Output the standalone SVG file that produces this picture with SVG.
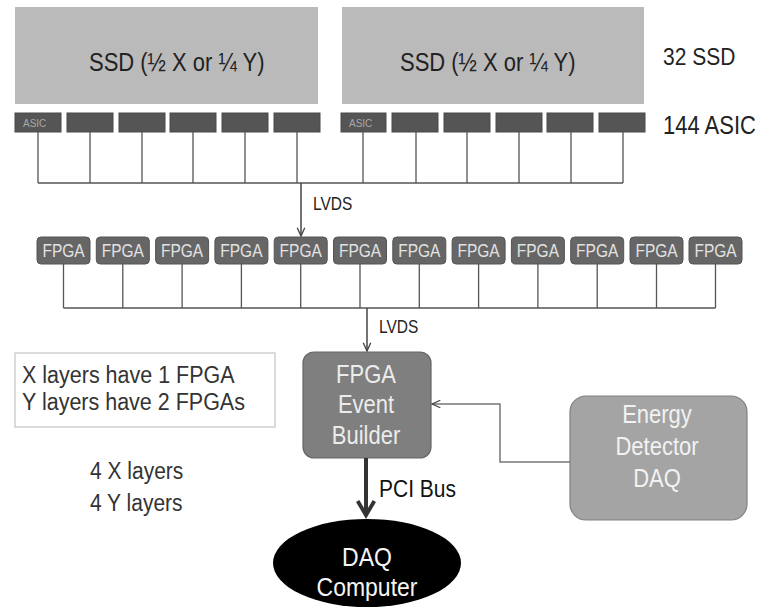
<svg xmlns="http://www.w3.org/2000/svg" width="763" height="616" viewBox="0 0 763 616">
<style>
  text { font-family: "Liberation Sans", Arial, sans-serif; }
  .ssd { fill: #bababa; }
  .asic { fill: #555; stroke: #4a4a4a; stroke-width: 1; }
  .fpga { fill: #666; stroke: #555; stroke-width: 1; }
  .fpgat { fill: #e2e2e2; font-size: 15.5px; text-anchor: middle; }
  .wire { fill: none; stroke: #555; stroke-width: 1.3; }
  .lbl { fill: #222; }
</style>
<defs>
  <marker id="chev" viewBox="0 0 12 12" refX="11" refY="6" markerWidth="10" markerHeight="10" markerUnits="userSpaceOnUse" orient="auto">
    <path d="M1,1.5 L11,6 L1,10.5" fill="none" stroke="#444" stroke-width="1.6"/>
  </marker>
  <marker id="chevthick" viewBox="0 0 12 12" refX="10.5" refY="6" markerWidth="20" markerHeight="20" markerUnits="userSpaceOnUse" orient="auto">
    <path d="M1.5,1 L10,6 L1.5,11" fill="none" stroke="#333" stroke-width="2.3"/>
  </marker>
</defs>
<rect width="763" height="616" fill="#ffffff"/>

<g id="ssd1"><rect class="ssd" x="15" y="7" width="303" height="97"/><text class="lbl" transform="translate(89,71) scale(1,1.15)" font-size="22">SSD (½ X or ¼ Y)</text></g>
<g id="ssd2"><rect class="ssd" x="342" y="7" width="302" height="97"/><text class="lbl" transform="translate(400,71) scale(1,1.15)" font-size="22">SSD (½ X or ¼ Y)</text></g>
<g id="label-32ssd"><text class="lbl" transform="translate(663,65) scale(1,1.15)" font-size="21">32 SSD</text></g>
<g id="label-144asic"><text class="lbl" transform="translate(663,134) scale(1,1.15)" font-size="22">144 ASIC</text></g>

<g id="asics">
  <rect class="asic" x="15" y="113" width="46" height="19"/>
  <rect class="asic" x="67" y="113" width="46" height="19"/>
  <rect class="asic" x="119" y="113" width="46" height="19"/>
  <rect class="asic" x="170" y="113" width="46" height="19"/>
  <rect class="asic" x="222" y="113" width="46" height="19"/>
  <rect class="asic" x="274" y="113" width="46" height="19"/>
  <rect class="asic" x="341" y="113" width="45" height="19"/>
  <rect class="asic" x="392" y="113" width="46" height="19"/>
  <rect class="asic" x="444" y="113" width="46" height="19"/>
  <rect class="asic" x="496" y="113" width="46" height="19"/>
  <rect class="asic" x="547" y="113" width="46" height="19"/>
  <rect class="asic" x="599" y="113" width="46" height="19"/>
  <text transform="translate(23,127) scale(1,1.15)" font-size="10" fill="#a8a8a8">ASIC</text>
  <text transform="translate(349,127) scale(1,1.15)" font-size="10" fill="#a8a8a8">ASIC</text>
</g>

<g id="fpgas">
  <rect class="fpga" x="37" y="237" width="53" height="27" rx="4"/><text class="fpgat" transform="translate(63.5,257) scale(1,1.15)">FPGA</text>
  <rect class="fpga" x="96.3" y="237" width="53" height="27" rx="4"/><text class="fpgat" transform="translate(122.8,257) scale(1,1.15)">FPGA</text>
  <rect class="fpga" x="155.6" y="237" width="53" height="27" rx="4"/><text class="fpgat" transform="translate(182.1,257) scale(1,1.15)">FPGA</text>
  <rect class="fpga" x="214.9" y="237" width="53" height="27" rx="4"/><text class="fpgat" transform="translate(241.4,257) scale(1,1.15)">FPGA</text>
  <rect class="fpga" x="274.2" y="237" width="53" height="27" rx="4"/><text class="fpgat" transform="translate(300.7,257) scale(1,1.15)">FPGA</text>
  <rect class="fpga" x="333.5" y="237" width="53" height="27" rx="4"/><text class="fpgat" transform="translate(360,257) scale(1,1.15)">FPGA</text>
  <rect class="fpga" x="392.8" y="237" width="53" height="27" rx="4"/><text class="fpgat" transform="translate(419.3,257) scale(1,1.15)">FPGA</text>
  <rect class="fpga" x="452.1" y="237" width="53" height="27" rx="4"/><text class="fpgat" transform="translate(478.6,257) scale(1,1.15)">FPGA</text>
  <rect class="fpga" x="511.4" y="237" width="53" height="27" rx="4"/><text class="fpgat" transform="translate(537.9,257) scale(1,1.15)">FPGA</text>
  <rect class="fpga" x="570.7" y="237" width="53" height="27" rx="4"/><text class="fpgat" transform="translate(597.2,257) scale(1,1.15)">FPGA</text>
  <rect class="fpga" x="630" y="237" width="53" height="27" rx="4"/><text class="fpgat" transform="translate(656.5,257) scale(1,1.15)">FPGA</text>
  <rect class="fpga" x="689" y="237" width="53" height="27" rx="4"/><text class="fpgat" transform="translate(715.5,257) scale(1,1.15)">FPGA</text>
</g>

<g id="event-builder">
  <rect x="303" y="352" width="128" height="106" rx="11" fill="#7f7f7f" stroke="#666" stroke-width="1.2"/>
  <text transform="translate(366,383) scale(1,1.15)" font-size="22" fill="#ececec" text-anchor="middle">FPGA</text>
  <text transform="translate(366,413) scale(1,1.15)" font-size="22" fill="#ececec" text-anchor="middle">Event</text>
  <text transform="translate(366,444) scale(1,1.15)" font-size="22" fill="#ececec" text-anchor="middle">Builder</text>
</g>

<g id="energy-daq">
  <rect x="570" y="396" width="177" height="124" rx="16" fill="#a4a4a4" stroke="#808080" stroke-width="1.2"/>
  <text transform="translate(657,423) scale(1,1.15)" font-size="22" fill="#f2f2f2" text-anchor="middle">Energy</text>
  <text transform="translate(657,455) scale(1,1.15)" font-size="22" fill="#f2f2f2" text-anchor="middle">Detector</text>
  <text transform="translate(657,487) scale(1,1.15)" font-size="22" fill="#f2f2f2" text-anchor="middle">DAQ</text>
</g>

<g id="daq-computer">
  <ellipse cx="367" cy="563" rx="94" ry="44" fill="#000"/>
  <text transform="translate(367,566) scale(1,1.15)" font-size="23" fill="#f5f5f5" text-anchor="middle">DAQ</text>
  <text transform="translate(367,596) scale(1,1.15)" font-size="23" fill="#f5f5f5" text-anchor="middle">Computer</text>
</g>

<g id="legend">
  <rect x="15" y="353" width="260" height="74" fill="#fff" stroke="#c4c4c4" stroke-width="1.2"/>
  <text transform="translate(22,383) scale(1,1.15)" font-size="21.5" fill="#333">X layers have 1 FPGA</text>
  <text transform="translate(22,410) scale(1,1.15)" font-size="21.5" fill="#333">Y layers have 2 FPGAs</text>
</g>
<g id="layers-note">
  <text transform="translate(90,479) scale(1,1.15)" font-size="21" fill="#333">4 X layers</text>
  <text transform="translate(90,511) scale(1,1.15)" font-size="21" fill="#333">4 Y layers</text>
</g>

<g id="connectors">
  <path class="wire" d="M38,132 V183 M90,132 V183 M142,132 V183 M193,132 V183 M245,132 V183 M297,132 V183 M363,132 V183 M416,132 V183 M467,132 V183 M519,132 V183 M571,132 V183 M623,132 V183 M38,183 H623"/>
  <path d="M301,183 V236" fill="none" stroke="#444" stroke-width="1.5" marker-end="url(#chev)"/>
  <text transform="translate(313,210) scale(1,1.15)" font-size="15.5" fill="#222">LVDS</text>
  <path class="wire" d="M63.5,264 V308 M122.8,264 V308 M182.1,264 V308 M241.4,264 V308 M300.7,264 V308 M360,264 V308 M419.3,264 V308 M478.6,264 V308 M537.9,264 V308 M597.2,264 V308 M656.5,264 V308 M715.5,264 V308 M63.5,308 H715.5"/>
  <path d="M367,308 V351" fill="none" stroke="#444" stroke-width="1.5" marker-end="url(#chev)"/>
  <text transform="translate(379,333) scale(1,1.15)" font-size="15.5" fill="#222">LVDS</text>
  <path d="M570,462 H500 V404 H432" fill="none" stroke="#777" stroke-width="1.5" marker-end="url(#chev)"/>
  <path d="M366,458 V516" fill="none" stroke="#333" stroke-width="4" marker-end="url(#chevthick)"/>
  <text transform="translate(379,497) scale(1,1.15)" font-size="21" fill="#111">PCI Bus</text>
</g>
</svg>
